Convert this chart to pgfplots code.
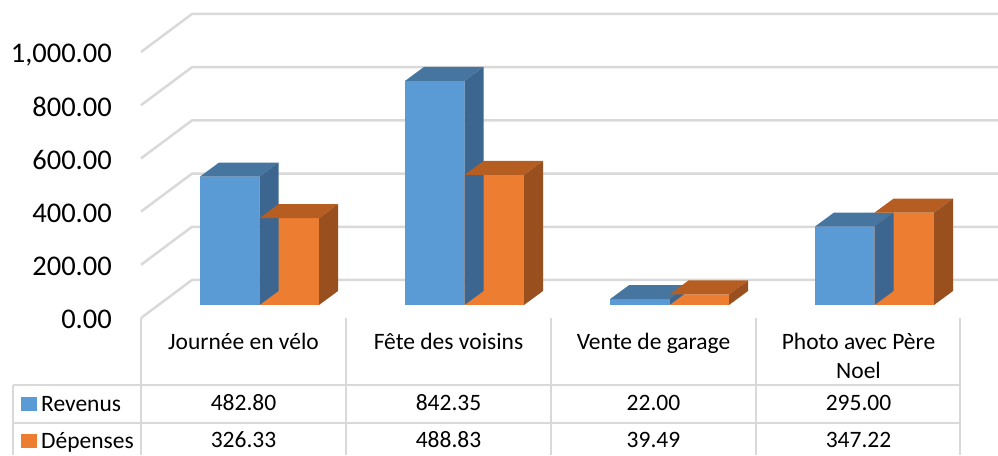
\documentclass[border=0pt]{standalone}
\usepackage{fontspec}
\setmainfont{Carlito}
\usepackage{pgfplots}
\usepackage{pgfplotstable}
\pgfplotsset{compat=1.18}
\definecolor{blueFront}{HTML}{5B9BD5}
\definecolor{blueTop}{HTML}{4675A0}
\definecolor{blueSide}{HTML}{3C6690}
\definecolor{orFront}{HTML}{ED7D31}
\definecolor{orTop}{HTML}{B65E22}
\definecolor{orSide}{HTML}{9A4F1F}
\definecolor{gridc}{HTML}{D9D9D9}
\newcommand\tabfont{\fontsize{23.5}{29}\selectfont}
\newcommand\tickfont{\fontsize{28.5}{34}\selectfont}

\pgfdeclareplotmark{topface}{%
  \pgfpathmoveto{\pgfqpoint{-29.75pt}{0pt}}%
  \pgfpathlineto{\pgfqpoint{29.75pt}{0pt}}%
  \pgfpathlineto{\pgfqpoint{48.75pt}{14pt}}%
  \pgfpathlineto{\pgfqpoint{-10.75pt}{14pt}}%
  \pgfpathclose\pgfusepath{fill}}
\pgfdeclareplotmark{sideface}{%
  \pgfmathsetmacro\hh{\barh*0.266}%
  \pgfpathmoveto{\pgfqpoint{29.75pt}{0pt}}%
  \pgfpathlineto{\pgfqpoint{48.75pt}{14pt}}%
  \pgfpathlineto{\pgfpoint{48.75pt}{14pt-\hh pt}}%
  \pgfpathlineto{\pgfpoint{29.75pt}{-\hh pt}}%
  \pgfpathclose\pgfusepath{fill}}

\pgfplotstableread{
idx rev dep
0 482.80 326.33
1 842.35 488.83
2 22.00 39.49
3 295.00 347.22
}\data

\begin{document}
\begin{tikzpicture}
% back wall and side wall gridlines
\foreach \t in {0,200,...,1000}{
  \pgfmathsetmacro\yf{137+0.266*\t}
  \pgfmathsetmacro\yb{\yf+38}
  \draw[gridc, line width=2.5pt, line join=round] (141pt,\yf pt) -- (192pt,\yb pt) -- (998pt,\yb pt);
}
% data table lines
\draw[gridc, line width=2pt]
  (141pt,137pt) -- (141pt,0pt)
  (346pt,137pt) -- (346pt,0pt)
  (551pt,137pt) -- (551pt,0pt)
  (756pt,137pt) -- (756pt,0pt)
  (960pt,137pt) -- (960pt,0pt)
  (13pt,70pt) -- (13pt,0pt)
  (13pt,70pt) -- (960pt,70pt)
  (13pt,32pt) -- (960pt,32pt);
% row headers (legend keys of the data table)
\fill[blueFront] (21pt,44pt) rectangle (37pt,58pt);
\fill[orFront] (21pt,7pt) rectangle (37pt,21pt);
\node[anchor=base west, inner sep=0pt, font=\tabfont] at (41pt,44pt) {Revenus};
\node[anchor=base west, inner sep=0pt, font=\tabfont] at (41pt,7pt) {Dépenses};
\begin{axis}[
  at={(141pt,137pt)}, anchor=south west,
  x=205pt, y=0.266pt,
  xmin=-0.5, xmax=3.5, ymin=0, ymax=1000,
  clip=false,
  axis line style={draw=none},
  major tick length=0pt,
  tick style={draw=none},
  scaled y ticks=false,
  /pgf/number format/assume math mode=true,
  ytick={0,200,...,1000},
  yticklabel style={font=\tickfont, anchor=base east, inner sep=0pt, xshift=-29pt, yshift=-11pt,
    /pgf/number format/.cd, fixed, fixed zerofill, precision=2, 1000 sep={,}},
  xtick={0,1,2,3},
  xticklabels={{\strut Journée en vélo},{\strut Fête des voisins},{\strut Vente de garage},{\strut Photo avec Père\\Noel}},
  xticklabel style={font=\tabfont, align=center, anchor=north, inner sep=0pt, yshift=-10.7pt},
]
% Revenus
\addplot[ybar, bar width=59.5pt, bar shift=-29.75pt, fill=blueFront, draw=none, xshift=16pt, yshift=13pt]
  table[x=idx, y=rev]{\data};
\addplot[only marks, mark=topface, color=blueTop, xshift=-13.75pt, yshift=13pt]
  table[x=idx, y=rev]{\data};
\addplot[only marks, mark=sideface, color=blueSide, xshift=-13.75pt, yshift=13pt,
  visualization depends on={rawy \as \barh}]
  table[x=idx, y=rev]{\data};
% Depenses
\addplot[ybar, bar width=59.5pt, bar shift=29.75pt, fill=orFront, draw=none, xshift=16pt, yshift=13pt]
  table[x=idx, y=dep]{\data};
\addplot[only marks, mark=topface, color=orTop, xshift=45.75pt, yshift=13pt]
  table[x=idx, y=dep]{\data};
\addplot[only marks, mark=sideface, color=orSide, xshift=45.75pt, yshift=13pt,
  visualization depends on={rawy \as \barh}]
  table[x=idx, y=dep]{\data};
% table values
\addplot[draw=none, mark=none,
  nodes near coords={\pgfmathprintnumber[fixed,fixed zerofill,precision=2]{\pgfplotspointmeta}},
  point meta=explicit,
  every node near coord/.append style={anchor=base, inner sep=0pt, font=\tabfont, text=black}]
  table[x=idx, y expr=-349.6, meta=rev]{\data};
\addplot[draw=none, mark=none,
  nodes near coords={\pgfmathprintnumber[fixed,fixed zerofill,precision=2]{\pgfplotspointmeta}},
  point meta=explicit,
  every node near coord/.append style={anchor=base, inner sep=0pt, font=\tabfont, text=black}]
  table[x=idx, y expr=-488.7, meta=dep]{\data};
\end{axis}
\pgfresetboundingbox
\path[use as bounding box] (0pt,0pt) rectangle (998pt,455pt);
\end{tikzpicture}
\end{document}
